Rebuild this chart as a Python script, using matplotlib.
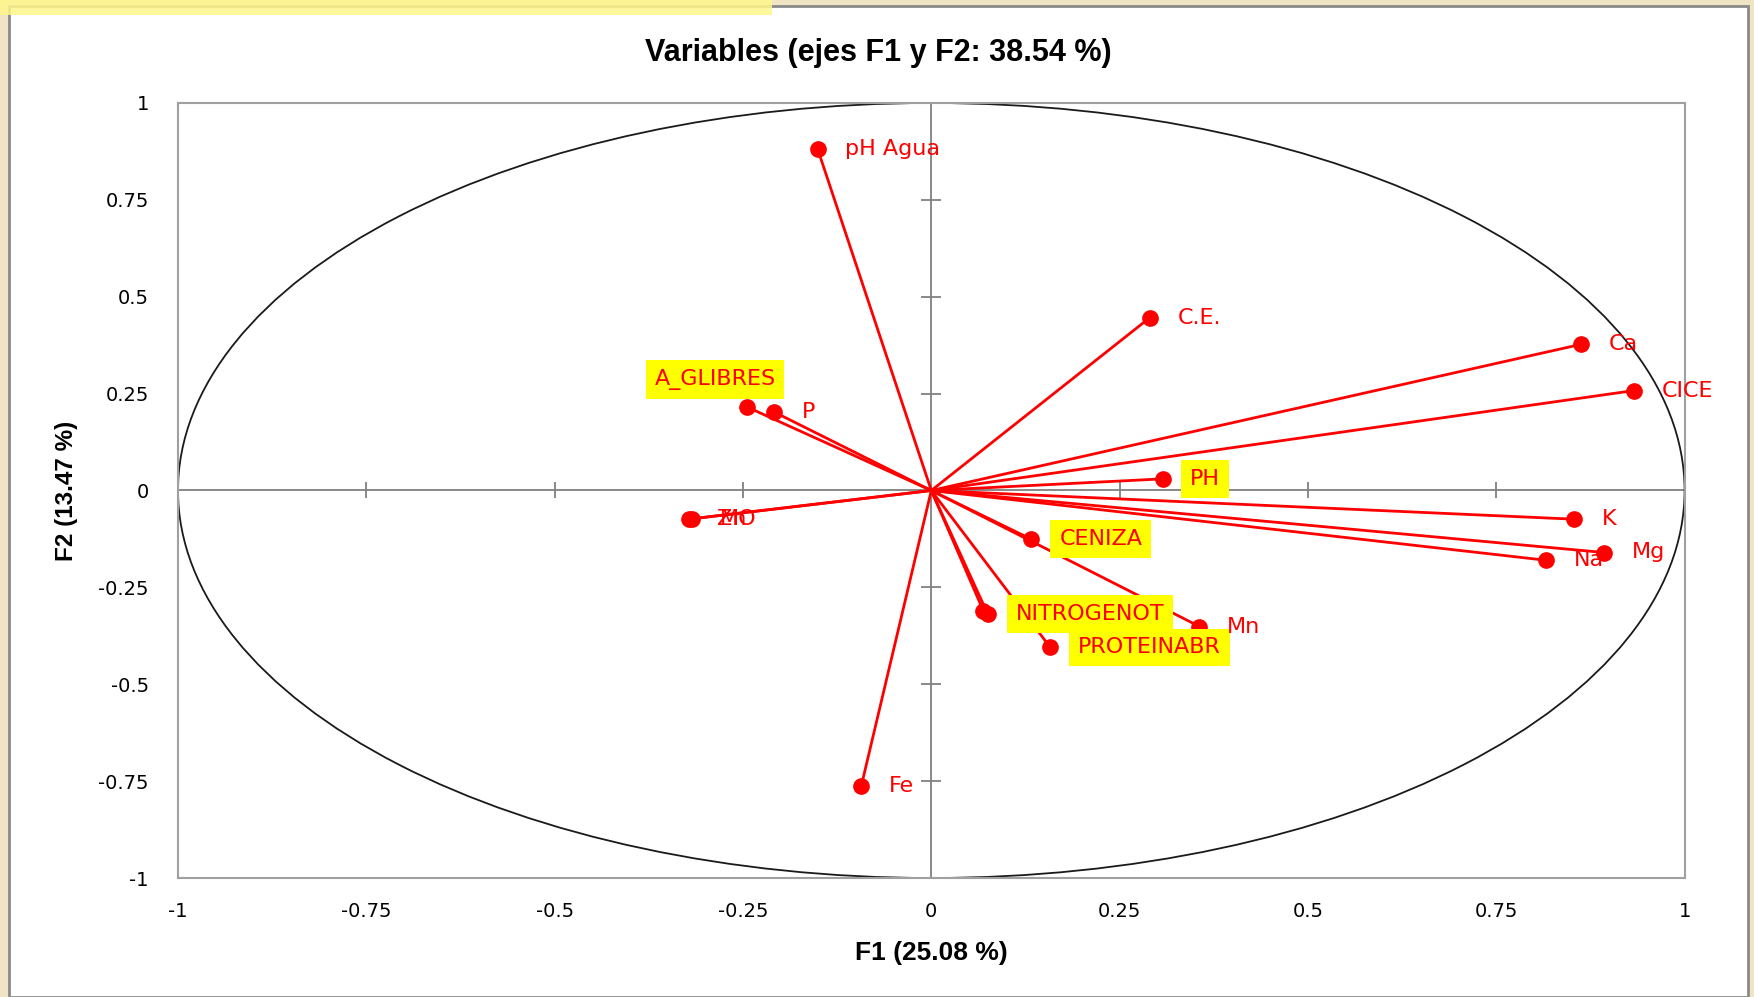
import numpy as np
from matplotlib import pyplot as plt
from matplotlib.patches import Circle, Rectangle

# variables and their coordinates on F1 / F2
names = ["pH Agua", "C.E.", "Ca", "CICE", "A_GLIBRES", "P", "PH", "Zn", "MO",
         "CENIZA", "K", "Mg", "Na", "Cu", "NITROGENOT", "PROTEINABR", "Mn", "Fe"]
f1 = [-0.151, 0.290, 0.862, 0.933, -0.244, -0.209, 0.307, -0.322, -0.318,
      0.133, 0.853, 0.893, 0.816, 0.069, 0.075, 0.158, 0.356, -0.093]
f2 = [0.882, 0.446, 0.377, 0.258, 0.215, 0.203, 0.030, -0.074, -0.073,
      -0.126, -0.074, -0.160, -0.180, -0.310, -0.319, -0.405, -0.351, -0.763]
highlighted = ["A_GLIBRES", "PH", "CENIZA", "NITROGENOT", "PROTEINABR"]

ticks = [-1, -0.75, -0.5, -0.25, 0, 0.25, 0.5, 0.75, 1]
tick_labels = ["-1", "-0.75", "-0.5", "-0.25", "0", "0.25", "0.5", "0.75", "1"]
inner_ticks = [-0.75, -0.5, -0.25, 0.25, 0.5, 0.75]

title = "Variables (ejes F1 y F2: 38.54 %)"
xlab = "F1 (25.08 %)"
ylab = "F2 (13.47 %)"

W, H = 1754, 997
fig = plt.figure(figsize=(W / 100, H / 100), dpi=100)
fig.patch.set_facecolor("#efe4c4")

# white chart area with grey border, yellow strip on top-left
fig.patches.append(Rectangle((9 / W, 0), (1748 - 9) / W, 1 - 6 / H, transform=fig.transFigure,
                             facecolor="white", edgecolor="#8a8a8a", lw=2, zorder=-2))
fig.patches.append(Rectangle((0, 1 - 15 / H), 772 / W, 15 / H, transform=fig.transFigure,
                             facecolor="#fff68a", edgecolor="none", alpha=0.85, zorder=-1))

ax = fig.add_axes([178 / W, 1 - 878 / H, (1684.6 - 178) / W, (878 - 103) / H])
ax.set_zorder(1)
ax.set_xlim(-1, 1)
ax.set_ylim(-1, 1)
for s in ax.spines.values():
    s.set_color("#a0a0a0")
    s.set_linewidth(1.5)

ax.set_xticks(ticks)
ax.set_xticklabels(tick_labels)
ax.set_yticks(ticks)
ax.set_yticklabels(tick_labels)
ax.tick_params(axis="x", length=0, pad=17, labelsize=14)
ax.tick_params(axis="y", length=0, pad=21, labelsize=14)

# centre axes with cross ticks
ax.axhline(0, color="#808080", lw=1.3, zorder=1)
ax.axvline(0, color="#808080", lw=1.3, zorder=1)
ax.plot(inner_ticks, [0] * len(inner_ticks), "|", color="#808080", markersize=12, mew=1.3, zorder=1)
ax.plot([0] * len(inner_ticks), inner_ticks, "_", color="#808080", markersize=14, mew=1.3, zorder=1)

# correlation circle
ax.add_patch(Circle((0, 0), 1, fill=False, color="#1a1a1a", lw=1.3, zorder=2))

for name, x, y in zip(names, f1, f2):
    ax.plot([0, x], [0, y], color="red", lw=2, zorder=3)
    ax.plot(x, y, "o", color="red", markersize=11, zorder=4)
    off = (-67, 20) if name == "A_GLIBRES" else (20, 0)
    box = None
    if name in highlighted:
        box = dict(boxstyle="square,pad=0.4", facecolor="#ffff00", edgecolor="none")
    ax.annotate(name, (x, y), xytext=off, textcoords="offset points", ha="left", va="center",
                color="red", fontsize=16, bbox=box, zorder=5)

ax.set_xlabel(xlab, fontsize=19, fontweight="bold", family="Liberation Sans", va="center")
ax.xaxis.set_label_coords(0.5, -0.097)
ax.set_ylabel(ylab, fontsize=17.5, fontweight="bold", family="Liberation Sans", va="center")
ax.yaxis.set_label_coords(-0.0737, 0.5)

fig.text(878 / W, 1 - 52.6 / H, title, ha="center", va="center", fontsize=22,
         fontweight="bold", family="Liberation Sans")

fig.savefig("out.png", dpi=100, facecolor=fig.get_facecolor())
